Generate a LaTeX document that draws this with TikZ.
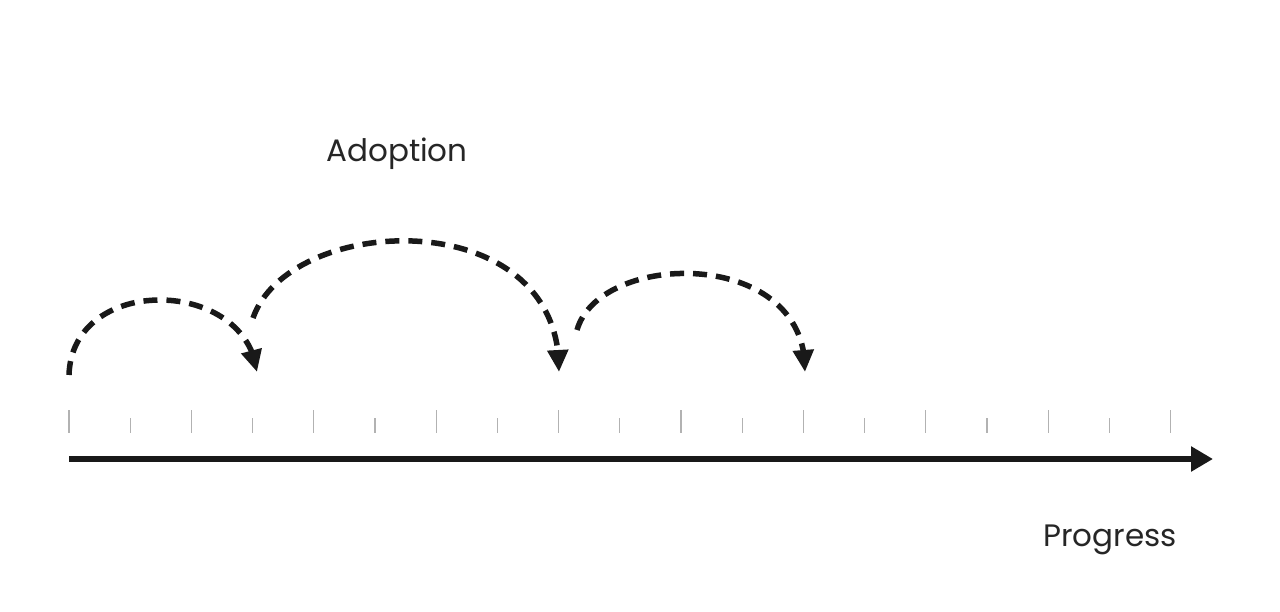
\documentclass[tikz,border=0pt]{standalone}
\usepackage{fontspec}
\setmainfont{Poppins}
\usetikzlibrary{positioning, arrows.meta, bending}

\begin{document}
\begin{tikzpicture}[
    x=1pt, y=1pt,
    label/.style={font=\fontsize{31}{36}\selectfont, text=black!85},
    jump/.style={draw=black!90, line width=5.5pt, dash pattern=on 14pt off 9pt, -{Triangle[length=22pt, width=20pt, flex]}},
    axis/.style={draw=black!90, line width=6pt, -{Triangle[length=22pt, width=24pt]}},
    tick/.style={draw=black!30, line width=1.2pt},
]
    \useasboundingbox (0,0) rectangle (1280,612);

    % Nodes
    \node[label] (Adop) at (397,458) {Adoption};
    \node[label] (Prog) at (1110,72)  {Progress};

    \coordinate (Start) at (69,153);
    \coordinate (End)   at (1213,153);

    \coordinate (Aone)   at (69,237);
    \coordinate (Bone)   at (257,240);
    \coordinate (Atwo)   at (253,294);
    \coordinate (Btwo)   at (559,240);
    \coordinate (Athree) at (577,282);
    \coordinate (Bthree) at (805,240);

    % Ticks
    \foreach \i in {0,...,18} {
        \pgfmathsetmacro{\tx}{69+61.2*\i}
        \ifodd\i
            \draw[tick] (\tx,179) -- (\tx,194);
        \else
            \draw[tick] (\tx,179) -- (\tx,202);
        \fi
    }

    % Lines
    \draw[axis] (Start) -- (End);

    \draw[jump] (Aone) .. controls (72,338) and (246,335) .. (Bone);
    \draw[jump] (Atwo) .. controls (290,400) and (562,410) .. (Btwo);
    \draw[jump] (Athree) .. controls (600,362) and (808,365) .. (Bthree);

\end{tikzpicture}
\end{document}
